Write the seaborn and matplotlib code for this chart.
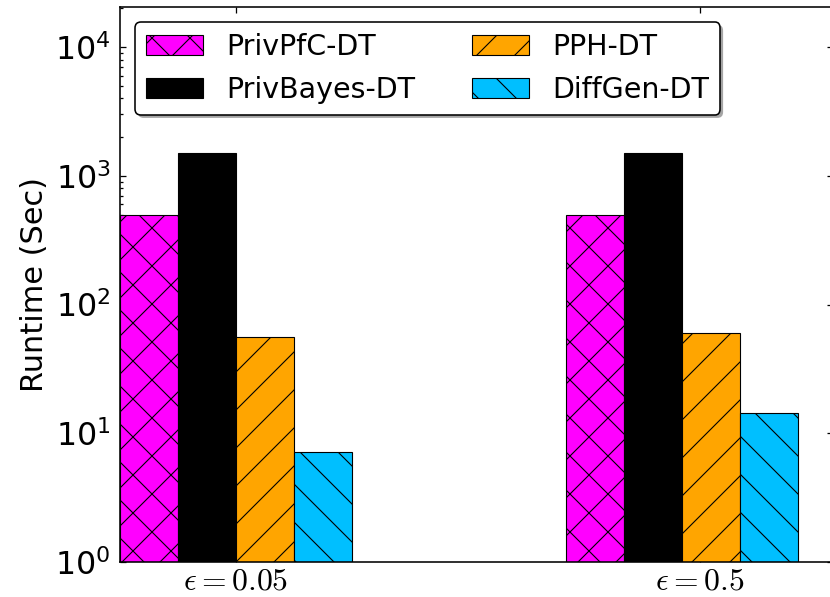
import matplotlib
matplotlib.use("Agg")
import matplotlib.pyplot as plt
from matplotlib.patches import Shadow
import seaborn as sns
import pandas as pd

# ---- data ----
epsilons = ["$\\epsilon=0.05$", "$\\epsilon=0.5$"]
methods = ["PrivPfC-DT", "PrivBayes-DT", "PPH-DT", "DiffGen-DT"]
privpfc = [500, 500]
privbayes = [1500, 1500]
pph = [56, 60]
diffgen = [7.1, 14.3]
colors = ["#FF00FF", "#000000", "#FFA500", "#00BFFF"]
hatches = ["xx", "", "//", "\\\\"]

rows = []
for m, vals in zip(methods, [privpfc, privbayes, pph, diffgen]):
    for e, v in zip(epsilons, vals):
        rows.append({"eps": e, "method": m, "runtime": v})
df = pd.DataFrame(rows)

sns.set_style("white")
plt.rcParams["font.family"] = ["DejaVu Sans"]
plt.rcParams["mathtext.fontset"] = "cm"
plt.rcParams["hatch.linewidth"] = 0.35
plt.rcParams["text.color"] = "black"
plt.rcParams["axes.labelcolor"] = "black"
plt.rcParams["xtick.color"] = "black"
plt.rcParams["ytick.color"] = "black"

DPI = 228
fig = plt.figure(figsize=(830 / DPI, 597 / DPI), dpi=DPI)
ax = fig.add_axes([120 / 830, 35 / 597, 713 / 830, 555 / 597])

sns.barplot(data=df, x="eps", y="runtime", hue="method", hue_order=methods,
            order=epsilons, palette=colors, width=0.52, saturation=1,
            edgecolor="black", linewidth=0.35, legend=False, ax=ax,
            errorbar=None)

for cont, h in zip(ax.containers, hatches):
    for bar in cont:
        bar.set_hatch(h)

ax.set_yscale("log")
ax.set_ylim(1, 2.05e4)
ax.set_xlim(-0.26, -0.26 + 713 / 446)
ax.set_xticks([0, 1.04])
ax.set_xticklabels(epsilons, fontsize=10)
ax.set_xlabel("")
ax.set_ylabel("Runtime (Sec)", fontsize=9.6, labelpad=2, color="black")
ax.tick_params(axis="y", which="major", labelsize=10, pad=3)

ax.tick_params(which="both", direction="in", top=True, right=True,
               bottom=True, left=True, width=0.4, color="black",
               labelcolor="black")
ax.tick_params(which="major", length=1.9)
ax.tick_params(which="minor", length=0.95)
ax.tick_params(axis="x", which="major", pad=1.2)
ax.tick_params(axis="x", which="minor", bottom=False, top=False)
for s in ax.spines.values():
    s.set_visible(True)
    s.set_linewidth(0.5)
    s.set_color("black")

leg = ax.legend(ax.containers, methods, ncol=2, loc="upper left",
                bbox_to_anchor=(0.021, 0.973), borderaxespad=0,
                fontsize=9.0, fancybox=True, shadow=False, frameon=True)
leg.get_frame().set_edgecolor("black")
leg.get_frame().set_linewidth(0.5)
leg.get_frame().set_alpha(1)
for t in leg.get_texts():
    t.set_color("black")
leg.set_zorder(10)

fig.canvas.draw()
sh = Shadow(leg.legendPatch, 0.9, -0.9)
sh.set_facecolor("#4d4d4d")
sh.set_edgecolor("none")
sh.set_zorder(9)
ax.add_artist(sh)
sh.set_clip_on(False)

fig.savefig("out.png", dpi=DPI)
